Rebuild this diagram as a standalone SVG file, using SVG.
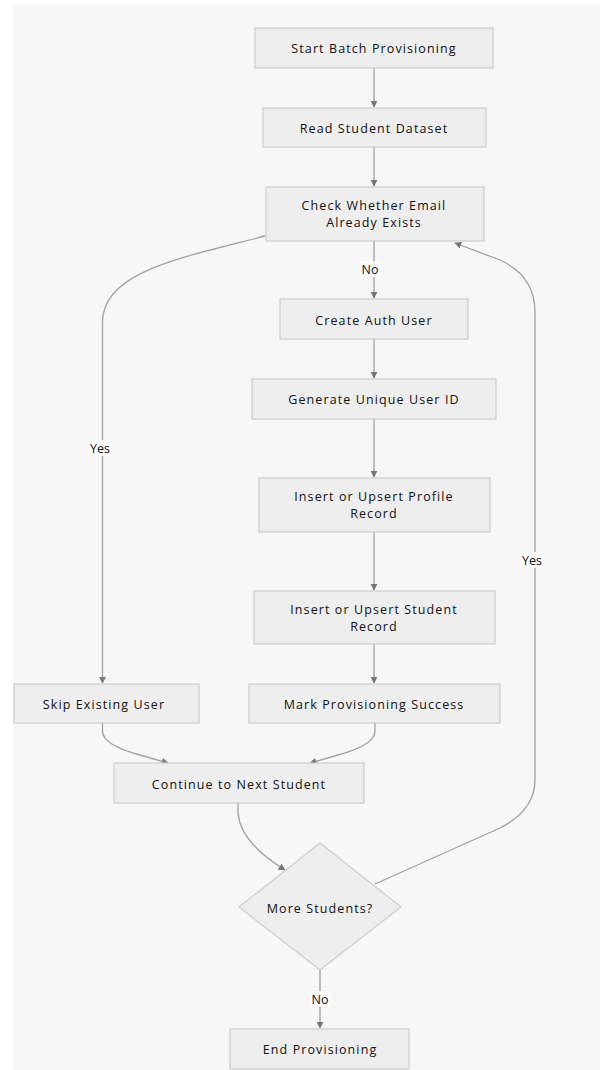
<svg xmlns="http://www.w3.org/2000/svg" width="600" height="1070" viewBox="0 0 600 1070">
<style>
.node rect,.node polygon{fill:#eeeeee;stroke:#cccccc;stroke-width:1.2}
.node text{font-family:"Open Sans","Noto Sans",sans-serif;font-size:12.5px;letter-spacing:1.1px;fill:#111;text-anchor:middle;dominant-baseline:central}
.edge{fill:none;stroke:#a0a0a0;stroke-width:1.3}
.lbl rect{fill:#ffffff;opacity:0.85}
.lbl text{font-family:"Open Sans","Noto Sans",sans-serif;font-size:12.5px;fill:#111;text-anchor:middle;dominant-baseline:central}
</style>
<defs>
<marker id="arr" viewBox="0 0 10 10" refX="9" refY="5" markerWidth="7" markerHeight="7" orient="auto" markerUnits="userSpaceOnUse">
<path d="M0,0 L10,5 L0,10 z" fill="#777"/>
</marker>
</defs>
<rect x="0" y="0" width="600" height="1070" fill="#ffffff"/>
<rect x="13" y="4" width="587" height="1066" fill="#f7f7f7"/>
<g id="connectors">
<path class="edge" d="M374,68 L374,107" marker-end="url(#arr)"/>
<path class="edge" d="M374,147 L374,186" marker-end="url(#arr)"/>
<path class="edge" d="M374,241 L374,298" marker-end="url(#arr)"/>
<path class="edge" d="M265,236 C180,258 102.5,272 102.5,322 L102.5,683" marker-end="url(#arr)"/>
<path class="edge" d="M374,339 L374,378" marker-end="url(#arr)"/>
<path class="edge" d="M374,419 L374,477" marker-end="url(#arr)"/>
<path class="edge" d="M374,532 L374,590" marker-end="url(#arr)"/>
<path class="edge" d="M374,644 L374,683" marker-end="url(#arr)"/>
<path class="edge" d="M102.5,723 L102.5,731 Q102.5,745 140,755 L168,763" marker-end="url(#arr)"/>
<path class="edge" d="M375,723 L375,731 Q375,745 338,755 L310,763" marker-end="url(#arr)"/>
<path class="edge" d="M238,803 L238,813 Q240,842 285,870" marker-end="url(#arr)"/>
<path class="edge" d="M375,884 L500,828 Q535,810 535,780 L535,312 Q535,276 500,260 L455,243" marker-end="url(#arr)"/>
<path class="edge" d="M320,969 L320,1028" marker-end="url(#arr)"/>
<g class="lbl"><rect x="360" y="261" width="20" height="16"/><text x="370" y="269">No</text></g>
<g class="lbl"><rect x="88" y="440" width="24" height="16"/><text x="100" y="448">Yes</text></g>
<g class="lbl"><rect x="520" y="552" width="24" height="16"/><text x="532" y="560">Yes</text></g>
<g class="lbl"><rect x="310" y="991" width="20" height="16"/><text x="320" y="999">No</text></g>
</g>
<g id="start" class="node"><rect x="255" y="28" width="238" height="40"/><text x="374" y="48">Start Batch Provisioning</text></g>
<g id="read" class="node"><rect x="263" y="108" width="223" height="39"/><text x="374" y="128">Read Student Dataset</text></g>
<g id="check" class="node"><rect x="266" y="187" width="218" height="54"/><text x="374" y="205.5">Check Whether Email</text><text x="374" y="222.5">Already Exists</text></g>
<g id="create" class="node"><rect x="280" y="299" width="188" height="40"/><text x="374" y="320">Create Auth User</text></g>
<g id="generate" class="node"><rect x="252" y="379" width="244" height="40"/><text x="374" y="399">Generate Unique User ID</text></g>
<g id="profile" class="node"><rect x="259" y="478" width="231" height="54"/><text x="374" y="496.5">Insert or Upsert Profile</text><text x="374" y="513.5">Record</text></g>
<g id="student" class="node"><rect x="254" y="591" width="241" height="53"/><text x="374" y="609">Insert or Upsert Student</text><text x="374" y="626">Record</text></g>
<g id="skip" class="node"><rect x="14" y="684" width="185" height="39"/><text x="104" y="704">Skip Existing User</text></g>
<g id="mark" class="node"><rect x="249" y="684" width="251" height="39"/><text x="374" y="704">Mark Provisioning Success</text></g>
<g id="continue" class="node"><rect x="114" y="763" width="250" height="40"/><text x="239" y="784">Continue to Next Student</text></g>
<g id="more" class="node"><polygon points="320,843 401,907 320,970 239,907"/><text x="320" y="908">More Students?</text></g>
<g id="end" class="node"><rect x="230" y="1029" width="179" height="40"/><text x="320" y="1049">End Provisioning</text></g>
</svg>
